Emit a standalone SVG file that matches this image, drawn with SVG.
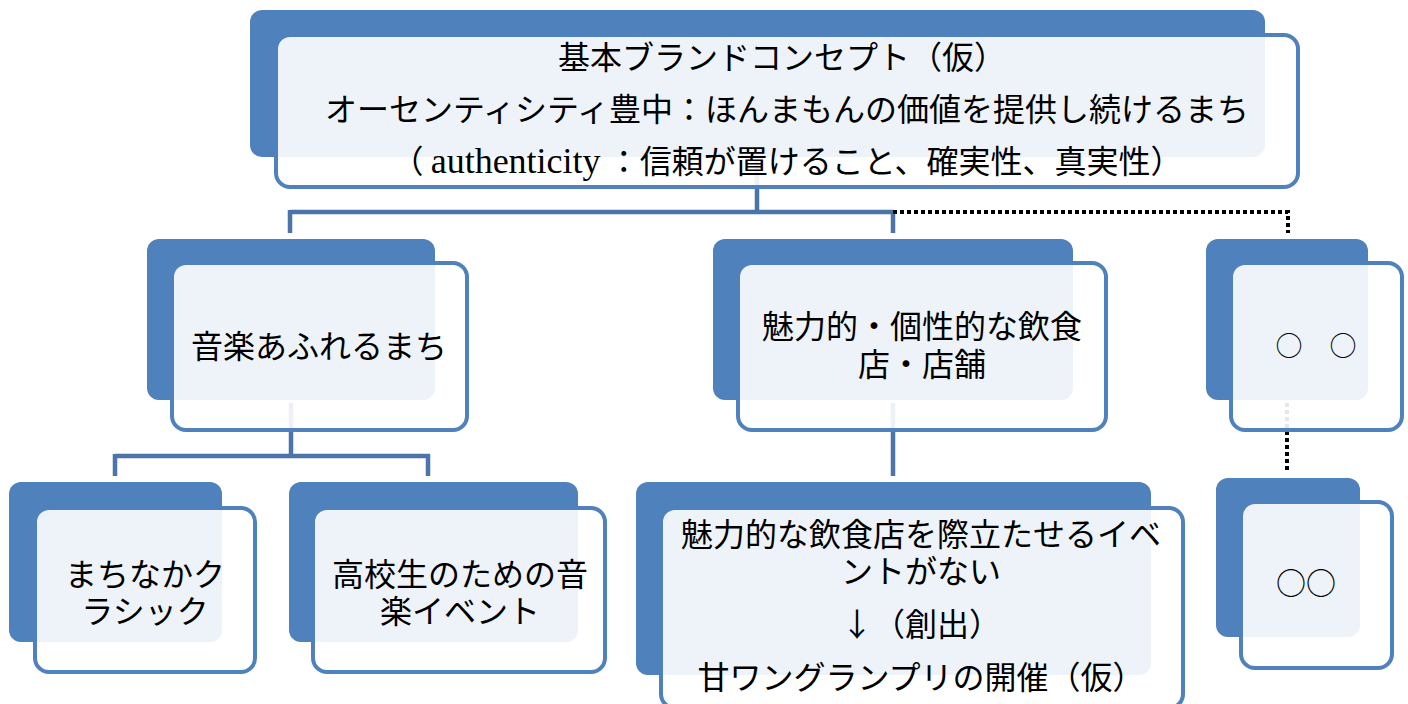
<svg xmlns="http://www.w3.org/2000/svg" width="1408" height="704" viewBox="0 0 1408 704">
<style>
.back{fill:#4F81BD;}
.front{fill:#FFFFFF;fill-opacity:0.9;stroke:#4F81BD;stroke-width:4;}
.t{font-family:"Noto Sans CJK JP","Noto Sans",sans-serif;font-size:32px;fill:#000;text-anchor:middle;}
.lat{font-family:"Liberation Serif",serif;font-size:36px;}
.solid{fill:none;stroke:#4A74AA;stroke-width:4.5;}
.dot{fill:none;stroke:#000;stroke-width:4;stroke-dasharray:4 3;}
</style>
<rect x="0" y="0" width="1408" height="704" fill="#FFFFFF"/>
<g id="connectors">
<path class="solid" d="M757 160 V212 M290 212 H893 M290 210 V233 M893 210 V233"/>
<path class="dot" d="M893 212 H1288 V233"/>
<path class="solid" d="M291 403 V456 M115 456 H430 M115 454 V476 M428 454 V476"/>
<path class="solid" d="M893 403 V476"/>
<path class="dot" d="M1287 403 V470"/>
</g>
<g id="node-top">
<rect class="back" x="250" y="10" width="1015" height="147" rx="12"/>
<rect class="front" x="276" y="35" width="1022" height="152" rx="14"/>
<text class="t"><tspan x="782" y="69">基本ブランドコンセプト（仮）</tspan><tspan x="787" y="121">オーセンティシティ豊中：ほんまもんの価値を提供し続けるまち</tspan><tspan x="787" y="173">（ <tspan class="lat">authenticity</tspan> ：信頼が置けること、確実性、真実性）</tspan></text>
</g>
<g id="node-music">
<rect class="back" x="147" y="239" width="288" height="161" rx="12"/>
<rect class="front" x="172" y="263" width="295" height="167" rx="14"/>
<text class="t" x="319" y="358">音楽あふれるまち</text>
</g>
<g id="node-food">
<rect class="back" x="713" y="239" width="360" height="161" rx="12"/>
<rect class="front" x="738" y="263" width="368" height="167" rx="14"/>
<text class="t"><tspan x="922" y="338">魅力的・個性的な飲食</tspan><tspan x="922" y="376">店・店舗</tspan></text>
</g>
<g id="node-maru">
<rect class="back" x="1206" y="239" width="162" height="161" rx="12"/>
<rect class="front" x="1231" y="263" width="171" height="167" rx="14"/>
<text class="t" x="1316" y="356" style="font-size:27px">○　○</text>
</g>
<g id="node-classic">
<rect class="back" x="9" y="482" width="213" height="160" rx="12"/>
<rect class="front" x="35" y="508" width="220" height="164" rx="14"/>
<text class="t"><tspan x="145" y="586">まちなかク</tspan><tspan x="145" y="623">ラシック</tspan></text>
</g>
<g id="node-student">
<rect class="back" x="289" y="482" width="289" height="160" rx="12"/>
<rect class="front" x="313" y="508" width="292" height="164" rx="14"/>
<text class="t"><tspan x="460" y="586">高校生のための音</tspan><tspan x="460" y="623">楽イベント</tspan></text>
</g>
<g id="node-event">
<rect class="back" x="636" y="482" width="515" height="193" rx="12"/>
<rect class="front" x="661" y="508" width="522" height="200" rx="14"/>
<text class="t"><tspan x="921" y="546">魅力的な飲食店を際立たせるイベ</tspan><tspan x="921" y="583">ントがない</tspan><tspan x="921" y="636">↓（創出）</tspan><tspan x="921" y="689">甘ワングランプリの開催（仮）</tspan></text>
</g>
<g id="node-maru2">
<rect class="back" x="1216" y="478" width="144" height="159" rx="12"/>
<rect class="front" x="1241" y="502" width="151" height="166" rx="14"/>
<text class="t" x="1306" y="594" style="font-size:30px">○○</text>
</g>
</svg>
